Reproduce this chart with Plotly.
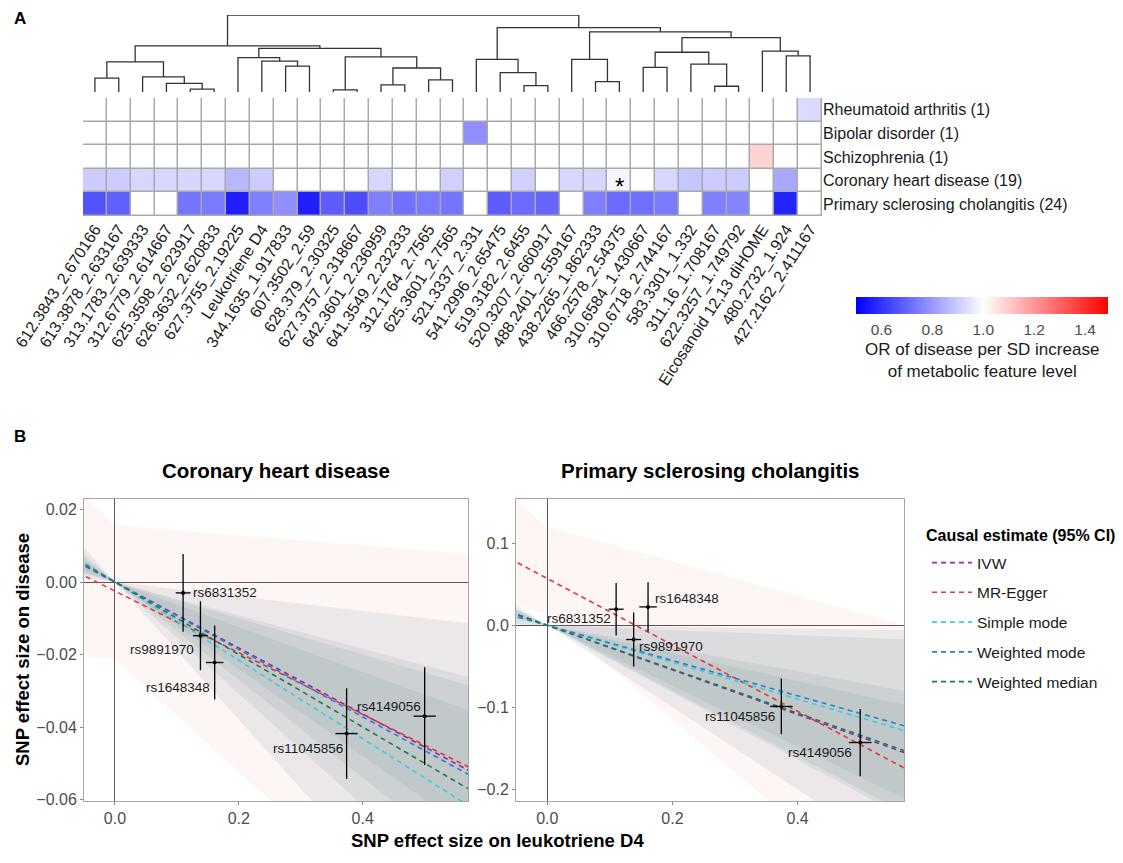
import plotly.graph_objects as go

W, H = 1123, 863
OFF = 8  # page body margin of the html page

# ---------------- DATA ----------------
features = ["612.3843_2.670166", "613.3878_2.633167", "313.1783_2.639333", "312.6779_2.614667",
            "625.3598_2.623917", "626.3632_2.620833", "627.3755_2.19225", "Leukotriene D4",
            "344.1635_1.917833", "607.3502_2.59", "628.379_2.30325", "627.3757_2.318667",
            "642.3601_2.236959", "641.3549_2.232333", "312.1764_2.7565", "625.3601_2.7565",
            "521.3337_2.331", "541.2996_2.65475", "519.3182_2.6455", "520.3207_2.660917",
            "488.2401_2.559167", "438.2265_1.862333", "466.2578_2.54375", "310.6584_1.430667",
            "310.6718_2.744167", "583.3301_1.332", "311.16_1.708167", "622.3257_1.749792",
            "Eicosanoid 12,13 diHOME", "480.2732_1.924", "427.2162_2.411167"]

diseases = ["Rheumatoid arthritis (1)", "Bipolar disorder (1)", "Schizophrenia (1)",
            "Coronary heart disease (19)", "Primary sclerosing cholangitis (24)"]

or_ra = [1.00, 1.00, 1.00, 1.00, 1.00, 1.00, 1.00, 1.00, 1.00, 1.00, 1.00, 1.00, 1.00, 1.00, 1.00, 1.00,
         1.00, 1.00, 1.00, 1.00, 1.00, 1.00, 1.00, 1.00, 1.00, 1.00, 1.00, 1.00, 1.00, 1.00, 0.93]
or_bd = [1.00, 1.00, 1.00, 1.00, 1.00, 1.00, 1.00, 1.00, 1.00, 1.00, 1.00, 1.00, 1.00, 1.00, 1.00, 1.00,
         0.78, 1.00, 1.00, 1.00, 1.00, 1.00, 1.00, 1.00, 1.00, 1.00, 1.00, 1.00, 1.00, 1.00, 1.00]
or_scz = [1.00, 1.00, 1.00, 1.00, 1.00, 1.00, 1.00, 1.00, 1.00, 1.00, 1.00, 1.00, 1.00, 1.00, 1.00, 1.00,
          1.00, 1.00, 1.00, 1.00, 1.00, 1.00, 1.00, 1.00, 1.00, 1.00, 1.00, 1.00, 1.085, 1.00, 1.00]
or_chd = [0.90, 0.90, 0.92, 0.92, 0.92, 0.92, 0.86, 0.90, 1.00, 1.00, 1.00, 1.00, 0.92, 1.00, 1.00, 0.91,
          1.00, 1.00, 0.91, 1.00, 0.92, 0.92, 0.98, 1.00, 0.92, 0.89, 0.90, 0.90, 1.00, 0.83, 1.00]
or_psc = [0.66, 0.69, 1.00, 1.00, 0.73, 0.74, 0.56, 0.75, 0.78, 0.56, 0.68, 0.65, 0.75, 0.72, 0.74, 0.73,
          1.00, 0.68, 0.71, 0.70, 1.00, 0.75, 0.71, 0.72, 0.74, 1.00, 0.75, 0.76, 1.00, 0.57, 1.00]
star_cells = [(3, 22)]  # (row, column) flagged with an asterisk

or_min, or_max = 0.50, 1.49
cb_ticks = [0.6, 0.8, 1.0, 1.2, 1.4]

# dendrogram linkage: (child a, child b, height); ids >= 31 refer to earlier merges
linkage = [(0, 1, 39), (4, 5, 8), (3, 32, 24), (2, 33, 42), (31, 34, 84),
           (8, 9, 72), (7, 36, 86), (6, 37, 96), (10, 11, 6), (12, 13, 20),
           (14, 15, 34), (40, 41, 67), (39, 42, 98), (38, 43, 122), (35, 44, 129),
           (18, 19, 18), (17, 46, 54), (16, 47, 91), (21, 22, 29), (20, 49, 91),
           (23, 24, 69), (26, 27, 16), (25, 52, 78), (51, 53, 111), (29, 30, 101),
           (28, 55, 114), (54, 56, 152), (50, 57, 168), (48, 58, 180), (45, 59, 215)]

# Panel B
snps = ["rs6831352", "rs9891970", "rs1648348", "rs11045856", "rs4149056"]
snp_bx = [0.110, 0.138, 0.161, 0.374, 0.500]
snp_bx_err = [0.012, 0.012, 0.014, 0.018, 0.018]
chd_by = [-0.0030, -0.0148, -0.0222, -0.0418, -0.0370]
chd_by_err = [0.0107, 0.0095, 0.0102, 0.0125, 0.0135]
psc_by = [0.0196, -0.0174, 0.0224, -0.0990, -0.1430]
psc_by_err = [0.032, 0.033, 0.030, 0.034, 0.041]

methods = ["IVW", "MR-Egger", "Simple mode", "Weighted mode", "Weighted median"]
chd_slope = [-0.091, -0.085, -0.108, -0.093, -0.100]
chd_slope_lo = [-0.120, -0.155, -0.190, -0.135, -0.154]
chd_slope_hi = [-0.062, -0.014, -0.020, -0.050, -0.046]
chd_int = [0.0, -0.0025, 0.0, 0.0, 0.0]
chd_int_lo = [0.0, -0.0213, 0.0, 0.0, 0.0]
chd_int_hi = [0.0, 0.0157, 0.0, 0.0, 0.0]
psc_slope = [-0.272, -0.405, -0.225, -0.215, -0.268]
psc_slope_lo = [-0.370, -0.643, -0.500, -0.410, -0.400]
psc_slope_hi = [-0.170, -0.210, -0.010, -0.030, -0.140]
psc_int = [0.0, 0.057, 0.0, 0.0, 0.0]
psc_int_lo = [0.0, 0.0137, 0.0, 0.0, 0.0]
psc_int_hi = [0.0, 0.120, 0.0, 0.0, 0.0]

# ---------------- STYLE ----------------
FONT = "Liberation Sans, Arial, Helvetica, sans-serif"
method_colors = ["#8E2CA3", "#E8373A", "#3CCDE3", "#2A80C9", "#1E7B58"]
GRAYBAND = "rgba(95,130,140,0.11)"
band_colors = [GRAYBAND, "rgba(240,90,90,0.06)", GRAYBAND, GRAYBAND, GRAYBAND]
chd_label_pos = [("left", 8, 0), ("right", -4, -14), ("right", -3, -25), ("right", -2, -15), ("right", -2, 10)]
psc_label_pos = [("right", -3, -9), ("left", 3, -7), ("left", 5, 8), ("right", -4, -10), ("right", -6, -10)]


def fx(p):
    return (p - OFF) / W


def fy(p):
    return 1 - (p - OFF) / H


fig = go.Figure()

# ---------------- Panel A: heatmap ----------------
mid = (1.0 - or_min) / (or_max - or_min)
z = [or_ra, or_bd, or_scz, or_chd, or_psc]
fig.add_trace(go.Heatmap(
    z=z, x=list(range(len(features))), y=list(range(len(diseases))),
    zmin=or_min, zmax=or_max,
    colorscale=[[0, "#0000FF"], [mid, "#FFFFFF"], [1, "#FF0000"]],
    xgap=1.5, ygap=1.5, hoverinfo="skip",
    xaxis="x", yaxis="y",
    colorbar=dict(orientation="h", x=fx(982), xanchor="center", y=fy(297), yanchor="top",
                  len=252, lenmode="pixels", thickness=17, outlinewidth=0, xpad=0, ypad=0,
                  tickvals=cb_ticks, ticktext=[f"{v:.1f}" for v in cb_ticks],
                  ticks="outside", ticklen=3, tickcolor="rgba(0,0,0,0)",
                  tickfont=dict(size=15.5, color="#4D4D4D", family=FONT)),
))
fig.add_shape(type="rect", xref="x", yref="y", x0=-0.5, x1=len(features) - 0.5,
              y0=-0.5, y1=len(diseases) - 0.5, fillcolor="#A9A9A9",
              line=dict(color="#A9A9A9", width=1.5), layer="below")
for (r, c) in star_cells:
    fig.add_annotation(x=c, y=r, xref="x", yref="y", text="*", showarrow=False,
                       font=dict(size=24, color="black", family=FONT), yshift=-6)

# dendrogram
pos = {i: (float(i), 0.0) for i in range(len(features))}
dx, dy = [], []
for k, (a, b, h) in enumerate(linkage):
    xa, ha = pos[a]
    xb, hb = pos[b]
    dx += [xa, xa, xb, xb, None]
    dy += [ha, h, h, hb, None]
    pos[len(features) + k] = ((xa + xb) / 2, h)
fig.add_trace(go.Scatter(x=dx, y=dy, mode="lines", line=dict(color="#333333", width=1.3),
                         hoverinfo="skip", showlegend=False, xaxis="x2", yaxis="y2"))

# ---------------- Panel B ----------------
XR = [-0.06, 0.0, 0.6]


def add_panel(xa, ya, slope, slo, shi, inter, ilo, ihi, by, byerr, labpos, legend):
    for i, m in enumerate(methods):
        up = [ihi[i] + (shi[i] if x >= 0 else slo[i]) * x for x in XR]
        lo = [ilo[i] + (slo[i] if x >= 0 else shi[i]) * x for x in XR]
        fig.add_trace(go.Scatter(x=XR + XR[::-1], y=up + lo[::-1], fill="toself",
                                 fillcolor=band_colors[i], line=dict(width=0), mode="lines",
                                 hoverinfo="skip", showlegend=False, xaxis=xa, yaxis=ya))
    for i, m in enumerate(methods):
        fig.add_trace(go.Scatter(x=[XR[0], XR[-1]], y=[inter[i] + slope[i] * XR[0], inter[i] + slope[i] * XR[-1]],
                                 mode="lines", name=m, legendgroup=m, showlegend=legend,
                                 line=dict(color=method_colors[i], width=1.6, dash="5px,4px"),
                                 hoverinfo="skip", xaxis=xa, yaxis=ya))
    fig.add_trace(go.Scatter(x=snp_bx, y=by, mode="markers",
                             marker=dict(color="black", size=4),
                             error_x=dict(type="data", array=snp_bx_err, color="black", thickness=1.3, width=0),
                             error_y=dict(type="data", array=byerr, color="black", thickness=1.3, width=0),
                             hoverinfo="skip", showlegend=False, xaxis=xa, yaxis=ya))
    for s, xv, yv, (anc, xs, ys) in zip(snps, snp_bx, by, labpos):
        fig.add_annotation(x=xv, y=yv, xref=xa, yref=ya, text=s, showarrow=False,
                           xanchor=anc, yanchor="middle", xshift=xs, yshift=ys,
                           font=dict(size=13.5, color="#1A1A1A", family=FONT))


add_panel("x3", "y3", chd_slope, chd_slope_lo, chd_slope_hi, chd_int, chd_int_lo, chd_int_hi,
          chd_by, chd_by_err, chd_label_pos, True)
add_panel("x4", "y4", psc_slope, psc_slope_lo, psc_slope_hi, psc_int, psc_int_lo, psc_int_hi,
          psc_by, psc_by_err, psc_label_pos, False)

# ---------------- Layout ----------------
tickfont_b = dict(size=16, color="#4D4D4D", family=FONT)
panel_axis = dict(showgrid=False, ticks="outside", ticklen=3, tickcolor="#888888", tickwidth=1,
                  showline=True, mirror=True, linecolor="#A6A6A6", linewidth=1, automargin=False,
                  zeroline=True, zerolinecolor="#555555", zerolinewidth=1, tickfont=tickfont_b)
xt = [0.0, 0.2, 0.4]
chd_yt = [-0.06, -0.04, -0.02, 0.0, 0.02]
psc_yt = [-0.2, -0.1, 0.0, 0.1]


def lab(v, d):
    s = f"{abs(v):.{d}f}"
    return ("\u2212" + s) if v < 0 else s


fig.update_layout(
    width=W, height=H, margin=dict(l=0, r=0, t=0, b=0, autoexpand=False),
    paper_bgcolor="white", plot_bgcolor="white",
    font=dict(family=FONT, color="black"),
    xaxis=dict(domain=[fx(83), fx(822)], range=[-0.5, len(features) - 0.5],
               tickvals=list(range(len(features))), ticktext=features, tickangle=-57,
               ticks="", showgrid=False, zeroline=False, showline=False, automargin=False,
               tickfont=dict(size=16, color="#1A1A1A", family=FONT), anchor="y"),
    yaxis=dict(domain=[fy(216), fy(98)], range=[len(diseases) - 0.5, -0.5],
               tickvals=list(range(len(diseases))), ticktext=diseases, side="right",
               ticks="", showgrid=False, zeroline=False, showline=False, automargin=False,
               tickfont=dict(size=16, color="#1A1A1A", family=FONT), anchor="x"),
    xaxis2=dict(domain=[fx(83), fx(822)], range=[-0.5, len(features) - 0.5], visible=False,
                anchor="y2", automargin=False),
    yaxis2=dict(domain=[fy(92), fy(15)], range=[0, 215], visible=False, anchor="x2", automargin=False),
    xaxis3=dict(domain=[fx(84), fx(468)], range=[-0.05, 0.57], tickvals=xt,
                ticktext=[lab(v, 1) for v in xt], anchor="y3", **panel_axis),
    yaxis3=dict(domain=[fy(801), fy(499)], range=[-0.0604, 0.0229], tickvals=chd_yt,
                ticktext=[lab(v, 2) for v in chd_yt], anchor="x3", **panel_axis),
    xaxis4=dict(domain=[fx(516), fx(904)], range=[-0.05, 0.57], tickvals=xt,
                ticktext=[lab(v, 1) for v in xt], anchor="y4", **panel_axis),
    yaxis4=dict(domain=[fy(801), fy(499)], range=[-0.2143, 0.1540], tickvals=psc_yt,
                ticktext=[lab(v, 1) for v in psc_yt], anchor="x4", **panel_axis),
    legend=dict(x=fx(927), y=fy(546), xanchor="left", yanchor="top",
                font=dict(size=15.5, color="#1A1A1A", family=FONT), tracegroupgap=6.6,
                itemwidth=40, bgcolor="rgba(0,0,0,0)"),
)

texts = [
    dict(x=fx(20), y=fy(18), text="<b>A</b>", size=17, color="black", anchor="center"),
    dict(x=fx(20), y=fy(437), text="<b>B</b>", size=17, color="black", anchor="center"),
    dict(x=fx(276), y=fy(470), text="<b>Coronary heart disease</b>", size=20.5, color="black", anchor="center"),
    dict(x=fx(710), y=fy(470), text="<b>Primary sclerosing cholangitis</b>", size=20.5, color="black",
         anchor="center"),
    dict(x=fx(497), y=fy(840), text="<b>SNP effect size on leukotriene D4</b>", size=18.5, color="black",
         anchor="center"),
    dict(x=fx(982), y=fy(361), text="OR of disease per SD increase<br>of metabolic feature level", size=17,
         color="#1A1A1A", anchor="center"),
    dict(x=fx(924), y=fy(535), text="<b>Causal estimate (95% CI)</b>", size=16, color="black", anchor="left"),
]
for t in texts:
    fig.add_annotation(x=t["x"], y=t["y"], xref="paper", yref="paper", text=t["text"], showarrow=False,
                       xanchor=t["anchor"], yanchor="middle",
                       font=dict(size=t["size"], color=t["color"], family=FONT))
fig.add_annotation(x=fx(22), y=fy(650), xref="paper", yref="paper", text="<b>SNP effect size on disease</b>",
                   showarrow=False, textangle=-90, xanchor="center", yanchor="middle",
                   font=dict(size=18.5, color="black", family=FONT))

fig.write_html("out.html")
